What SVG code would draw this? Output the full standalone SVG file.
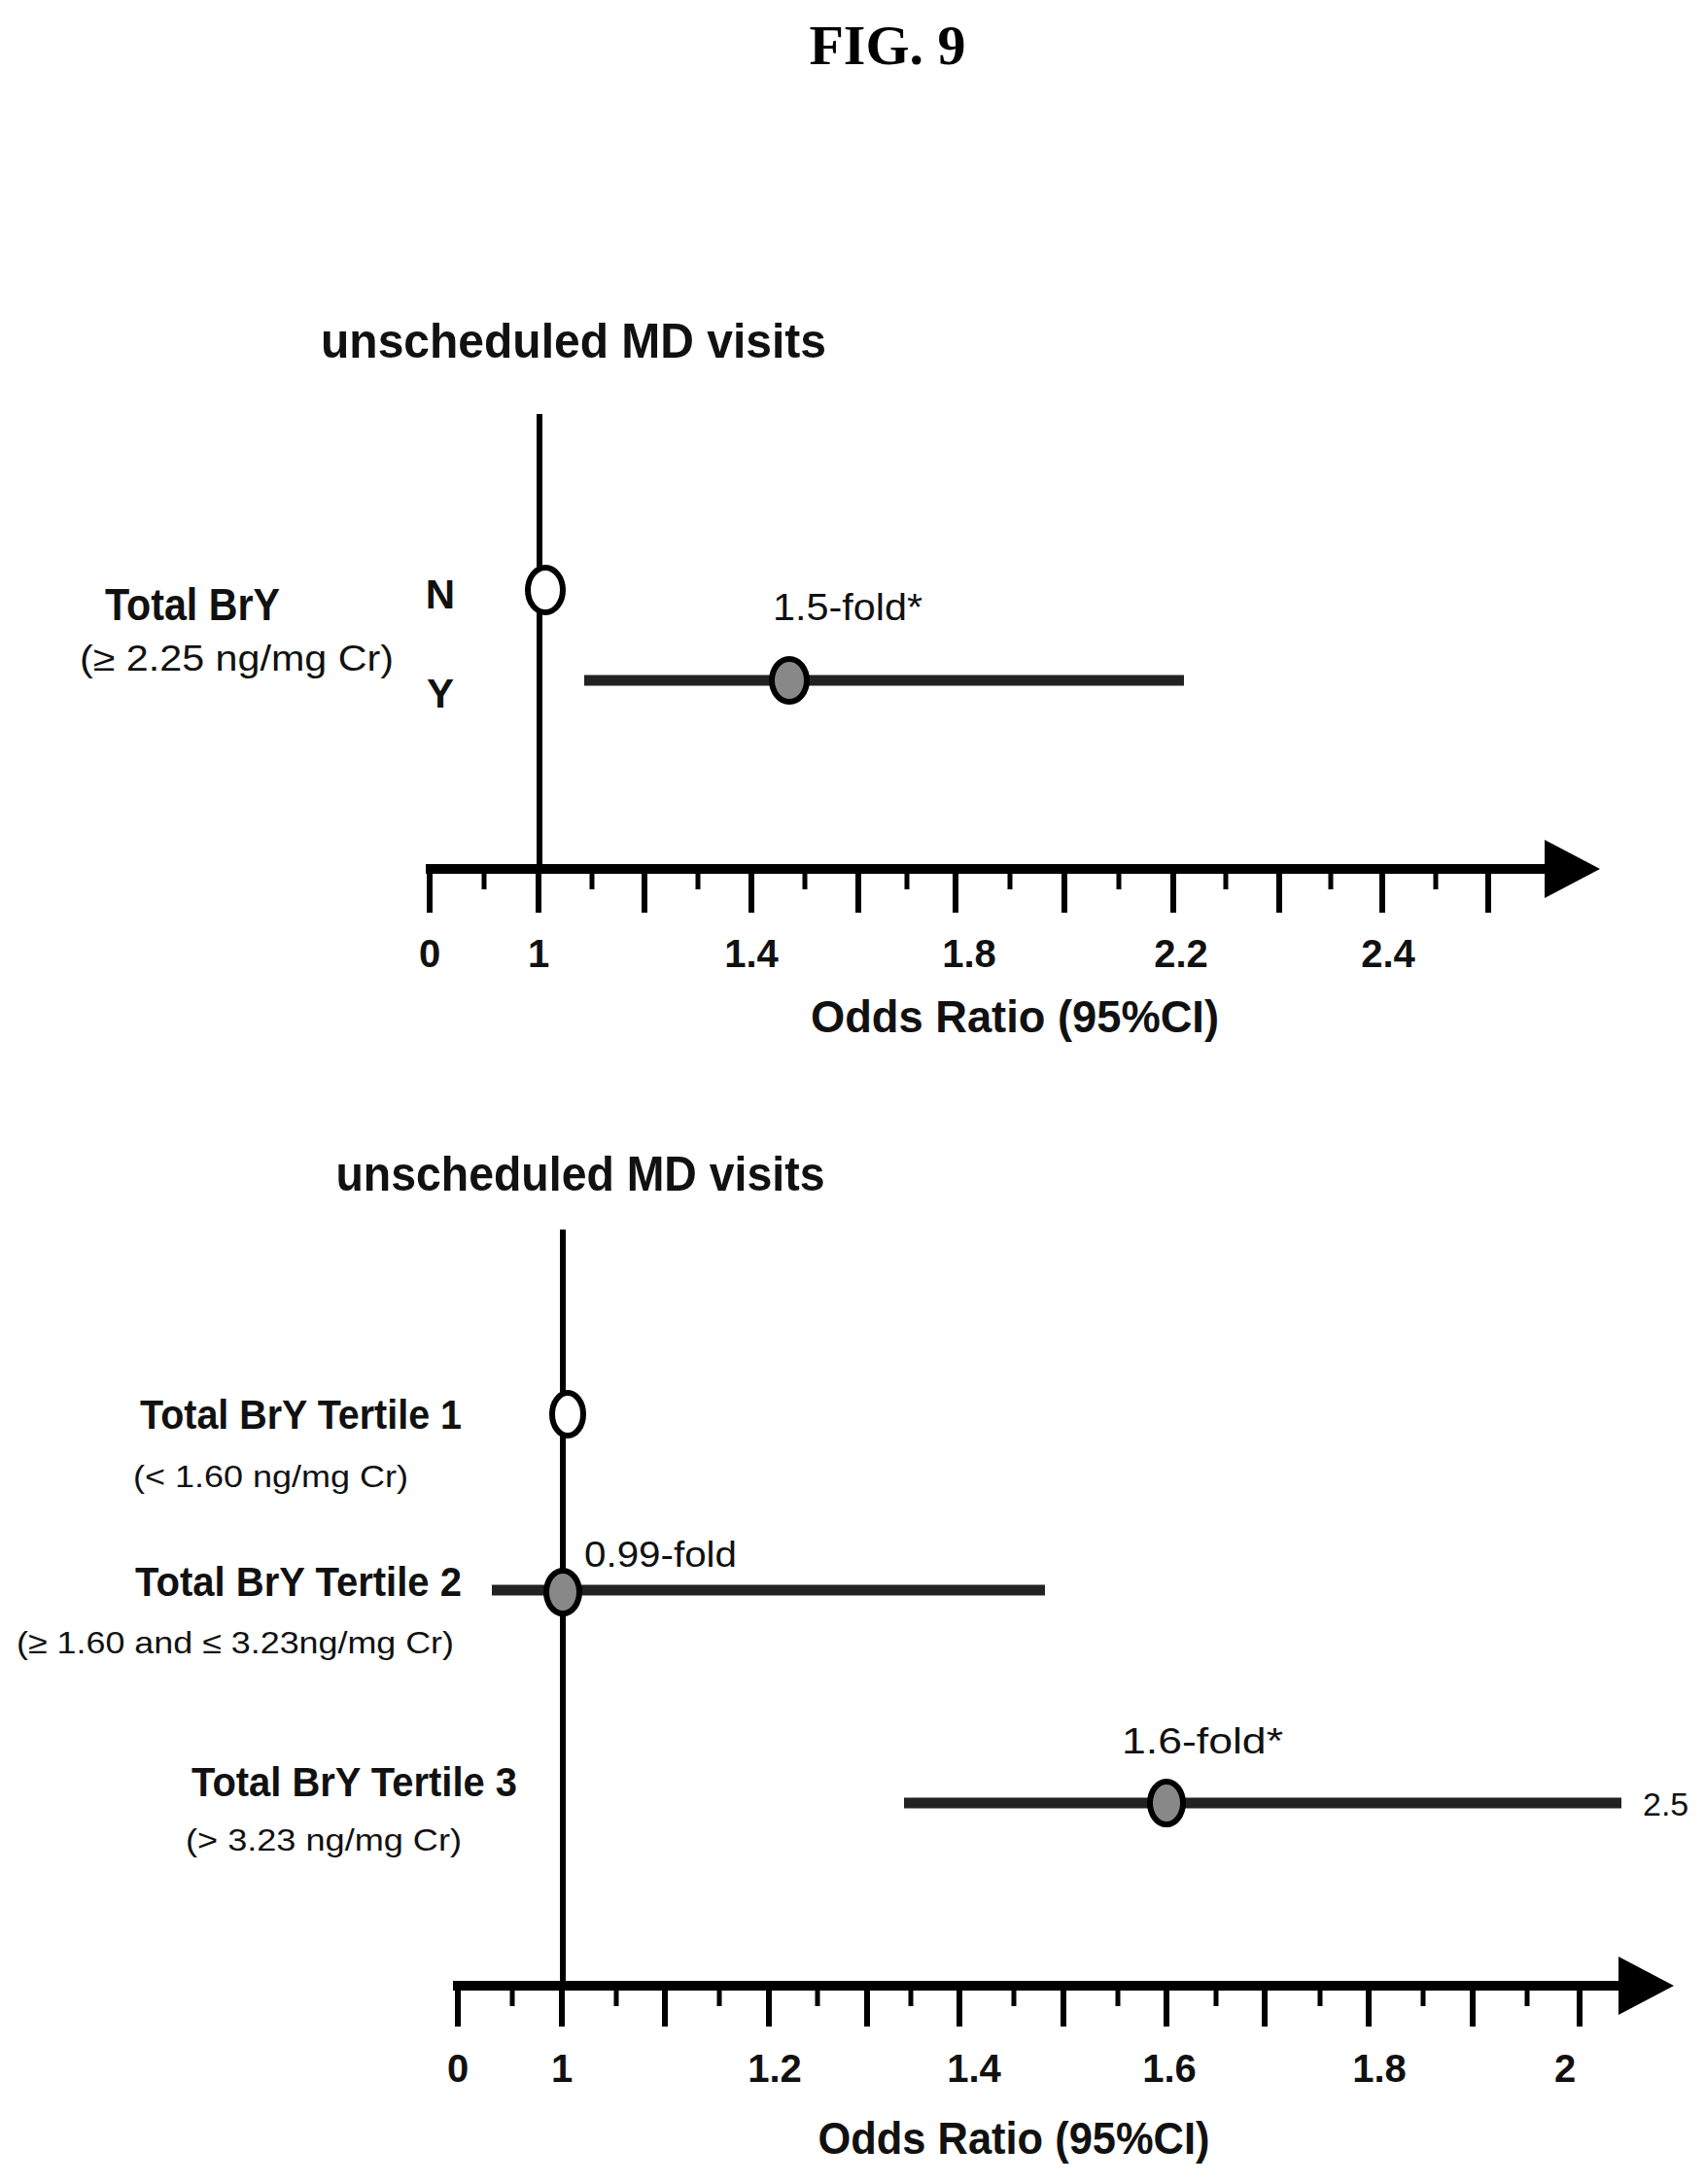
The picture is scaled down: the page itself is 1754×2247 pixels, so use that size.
<svg xmlns="http://www.w3.org/2000/svg" width="1754" height="2247" viewBox="0 0 1754 2247">
<style>
.t{font-family:"Liberation Sans",Arial,sans-serif;fill:#111}
.b{font-weight:bold}
.ax{stroke:#000;stroke-width:10;fill:none}
.lt{stroke:#000;stroke-width:6}
.st{stroke:#000;stroke-width:5}
.ci{stroke:#000;stroke-width:6;fill:none}
.bar{stroke:#222;stroke-width:11}
.op{fill:#fff;stroke:#000;stroke-width:6}
.fl{fill:#888;stroke:#000;stroke-width:6}
</style>
<rect width="1754" height="2247" fill="#fff"/>
<text x="913" y="66" text-anchor="middle" font-family="Liberation Serif,serif" font-weight="bold" font-size="58">FIG. 9</text>

<g id="chart1">
<text class="t b" x="590" y="368" text-anchor="middle" font-size="50" textLength="520" lengthAdjust="spacingAndGlyphs">unscheduled MD visits</text>
<line class="lt" x1="555" y1="426" x2="555" y2="897"/>
<g id="axis1">
<line class="ax" x1="438" y1="894" x2="1595" y2="894"/>
<polygon points="1589,864 1646,894 1589,924" fill="#000"/>
<path class="lt" d="M442 894V939M554 894V939M663 894V939M773 894V939M883 894V939M983 894V939M1095 894V939M1207 894V939M1316 894V939M1422 894V939M1531 894V939"/>
<path class="st" d="M498 894V915M609 894V915M718 894V915M828 894V915M933 894V915M1039 894V915M1151 894V915M1261 894V915M1369 894V915M1477 894V915"/>
<g class="t b" font-size="40" text-anchor="middle">
<text x="442" y="995">0</text><text x="554" y="995">1</text><text x="773" y="995">1.4</text>
<text x="997" y="995">1.8</text><text x="1215" y="995">2.2</text><text x="1428" y="995">2.4</text>
</g>
<text class="t b" x="1044" y="1062" text-anchor="middle" font-size="46" textLength="420" lengthAdjust="spacingAndGlyphs">Odds Ratio (95%CI)</text>
</g>
<g id="row-N">
<text class="t b" x="453" y="626" text-anchor="middle" font-size="42">N</text>
<ellipse class="op" cx="561" cy="607" rx="18" ry="23"/>
</g>
<g id="label1">
<text class="t b" x="108" y="638" font-size="46" textLength="180" lengthAdjust="spacingAndGlyphs">Total BrY</text>
<text class="t" x="82" y="690" font-size="36" textLength="323" lengthAdjust="spacingAndGlyphs">(≥ 2.25 ng/mg Cr)</text>
</g>
<g id="row-Y">
<text class="t b" x="453" y="728" text-anchor="middle" font-size="42">Y</text>
<line class="bar" x1="601" y1="700" x2="1218" y2="700"/>
<ellipse class="fl" cx="812" cy="700" rx="18" ry="22"/>
<text class="t" x="795" y="638" font-size="38" textLength="154" lengthAdjust="spacingAndGlyphs">1.5-fold*</text>
</g>
</g>

<g id="chart2">
<text class="t b" x="597" y="1225" text-anchor="middle" font-size="50" textLength="503" lengthAdjust="spacingAndGlyphs">unscheduled MD visits</text>
<line class="lt" x1="579" y1="1265" x2="579" y2="2045"/>
<g id="axis2">
<line class="ax" x1="466" y1="2043" x2="1670" y2="2043"/>
<polygon points="1665,2013 1722,2043 1665,2073" fill="#000"/>
<path class="lt" d="M471 2043V2085M578 2043V2085M684 2043V2085M791 2043V2085M892 2043V2085M987 2043V2085M1094 2043V2085M1200 2043V2085M1301 2043V2085M1408 2043V2085M1515 2043V2085M1625 2043V2085"/>
<path class="st" d="M527 2043V2064M634 2043V2064M740 2043V2064M841 2043V2064M937 2043V2064M1043 2043V2064M1150 2043V2064M1251 2043V2064M1358 2043V2064M1464 2043V2064M1571 2043V2064"/>
<g class="t b" font-size="40" text-anchor="middle">
<text x="471" y="2142">0</text><text x="578" y="2142">1</text><text x="797" y="2142">1.2</text>
<text x="1002" y="2142">1.4</text><text x="1203" y="2142">1.6</text><text x="1419" y="2142">1.8</text><text x="1610" y="2142">2</text>
</g>
<text class="t b" x="1043" y="2216" text-anchor="middle" font-size="46" textLength="403" lengthAdjust="spacingAndGlyphs">Odds Ratio (95%CI)</text>
</g>
<g id="tertile1">
<text class="t b" x="144" y="1470" font-size="42" textLength="331" lengthAdjust="spacingAndGlyphs">Total BrY Tertile 1</text>
<text class="t" x="137" y="1530" font-size="32" textLength="283" lengthAdjust="spacingAndGlyphs">(&lt; 1.60 ng/mg Cr)</text>
<ellipse class="op" cx="584" cy="1455" rx="16" ry="22"/>
</g>
<g id="tertile2">
<text class="t b" x="139" y="1642" font-size="42" textLength="336" lengthAdjust="spacingAndGlyphs">Total BrY Tertile 2</text>
<text class="t" x="17" y="1701" font-size="32" textLength="450" lengthAdjust="spacingAndGlyphs">(≥ 1.60 and ≤ 3.23ng/mg Cr)</text>
<line class="bar" x1="506" y1="1636" x2="1075" y2="1636"/>
<ellipse class="fl" cx="579" cy="1638" rx="17" ry="22"/>
<text class="t" x="601" y="1612" font-size="36" textLength="157" lengthAdjust="spacingAndGlyphs">0.99-fold</text>
</g>
<g id="tertile3">
<text class="t b" x="197" y="1848" font-size="42" textLength="335" lengthAdjust="spacingAndGlyphs">Total BrY Tertile 3</text>
<text class="t" x="191" y="1904" font-size="32" textLength="284" lengthAdjust="spacingAndGlyphs">(&gt; 3.23 ng/mg Cr)</text>
<line class="bar" x1="930" y1="1855" x2="1668" y2="1855"/>
<ellipse class="fl" cx="1200" cy="1855" rx="17" ry="22"/>
<text class="t" x="1154" y="1804" font-size="36" textLength="166" lengthAdjust="spacingAndGlyphs">1.6-fold*</text>
<text class="t" x="1690" y="1868" font-size="34">2.5</text>
</g>
</g>
</svg>
